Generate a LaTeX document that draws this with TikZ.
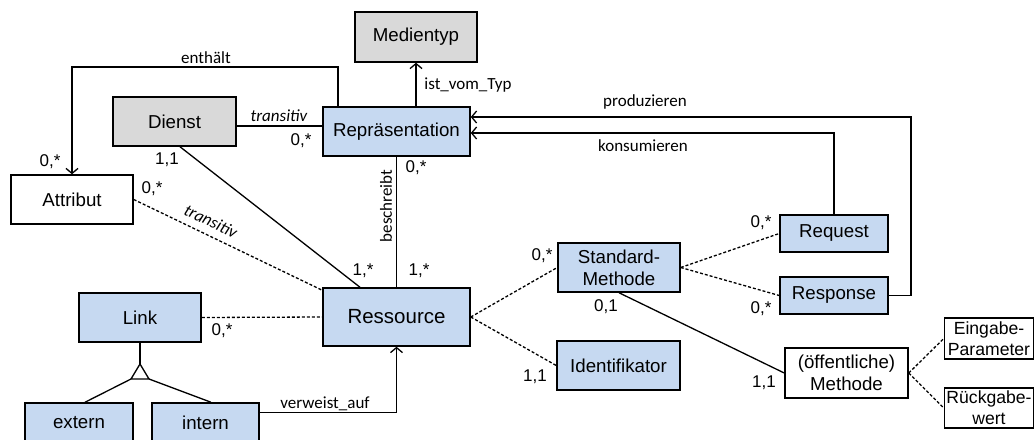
\documentclass[tikz,border=0pt]{standalone}
\usepackage{fontspec}
\setmainfont{Liberation Sans}
\newfontfamily\lblfont{Carlito}
\usetikzlibrary{arrows.meta,calc}
\definecolor{boxblue}{HTML}{C6D9F1}
\definecolor{boxgrey}{HTML}{D9D9D9}
\begin{document}
\begin{tikzpicture}[x=1pt,y=-1pt,
  ent/.style={draw=black,line width=1.5pt,inner sep=0pt,align=center,
    font=\fontsize{18.7}{22}\selectfont},
  bluebox/.style={ent,fill=boxblue},
  greybox/.style={ent,fill=boxgrey},
  whitebox/.style={ent,fill=white},
  con/.style={line width=1.3pt},
  dashline/.style={line width=1.3pt,dash pattern=on 3pt off 2pt},
  arr/.style={line width=1.3pt,-{Straight Barb[length=5pt,width=12pt,line width=1.3pt]}},
  card/.style={inner sep=0pt,font=\fontsize{17}{20}\selectfont},
  lbl/.style={inner sep=0pt,font=\lblfont\fontsize{17}{20}\selectfont},
  ilbl/.style={inner sep=0pt,font=\lblfont\itshape\fontsize{17}{20}\selectfont}]
\useasboundingbox (0,0) rectangle (1035,439);
% entities
\node[greybox,minimum width=122pt,minimum height=50pt] (medien) at (416,37) {Medientyp};
\node[bluebox,minimum width=147pt,minimum height=49pt] (repr) at (396.5,131.5) {Repräsentation};
\node[greybox,minimum width=123pt,minimum height=49pt] (dienst) at (174.5,121.5) {Dienst};
\node[whitebox,minimum width=122pt,minimum height=49pt] (attr) at (72,199.5) {Attribut};
\node[bluebox,minimum width=122pt,minimum height=49pt] (link) at (140,317.5) {Link};
\node[bluebox,minimum width=108pt,minimum height=39pt] (extern) at (79,422.5) {extern};
\node[bluebox,minimum width=107pt,minimum height=39pt] (intern) at (205.5,422.5) {intern};
\node[bluebox,minimum width=147pt,minimum height=58pt,font=\fontsize{20.5}{24}\selectfont] (ress) at (396.5,317) {Ressource};
\node[bluebox,minimum width=122pt,minimum height=49pt] (sm) at (619,267.5) {Standard-\\Methode};
\node[bluebox,minimum width=123pt,minimum height=49pt] (ident) at (618.5,365.5) {Identifikator};
\node[bluebox,minimum width=108pt,minimum height=37pt] (req) at (834,233.5) {Request};
\node[bluebox,minimum width=108pt,minimum height=37pt] (resp) at (834,295.5) {Response};
\node[whitebox,minimum width=123pt,minimum height=50pt] (meth) at (846.5,373) {(öffentliche)\\Methode};
\node[whitebox,minimum width=89pt,minimum height=41pt,font=\fontsize{17.6}{21}\selectfont] (ein) at (989,338.5) {Eingabe-\\Parameter};
\node[whitebox,minimum width=89pt,minimum height=40pt,font=\fontsize{17.6}{21}\selectfont] (rueck) at (989,408) {Rückgabe-\\wert};
% helper coordinates
\coordinate (e1) at (338,67);
\coordinate (pc) at (911,117);
\coordinate (kc) at (834,133);
\coordinate (dr) at (236,126);
\coordinate (apex) at (140,364);
\coordinate (bl) at (131,379);
\coordinate (br) at (149,379);
% connectors
\draw[arr] (repr.north -| e1) -- (e1) -| (attr.north);
\draw[arr] (repr.north -| medien.south) -- (medien.south);
\draw[con] (dr -| dienst.east) -- (dr -| repr.west);
\draw[con] ($(dienst.south)+(5.5,0)$) -- ($(ress.north)+(-36.5,0)$);
\draw[dashline] (attr.east) -- ($(ress.north west)+(0,3)$);
\draw[con] (repr.south) -- (ress.north);
\draw[dashline] (link.east) -- (ress.west);
\draw[arr] ($(intern.north east)+(0,10)$) -| (ress.south);
\draw[con] (link.south) -- (apex);
\draw[con,line join=miter] (apex) -- (bl) -- (br) -- cycle;
\draw[con] (bl) -- ($(extern.north)+(6,0)$);
\draw[con] (br) -- ($(intern.north)+(5.5,0)$);
\draw[dashline] (ress.east) -- (sm.west);
\draw[dashline] (ress.east) -- (ident.west);
\draw[dashline] (sm.east) -- (req.west);
\draw[dashline] (sm.east) -- (resp.west);
\draw[con] (sm.south) -- (meth.west);
\draw[dashline] (meth.east) -- (ein.west);
\draw[dashline] (meth.east) -- (rueck.west);
\draw[arr] (req.north) -- (kc) -- (kc -| repr.east);
\draw[arr] (resp.east) -| (pc) -- (pc -| repr.east);
% connector labels
\node[lbl] (l-enth) at (206,58) {enthält};
\node[lbl] (l-typ) at (468,85) {ist\_vom\_Typ};
\node[lbl] (l-prod) at (645,102) {produzieren};
\node[lbl] (l-kons) at (643,146) {konsumieren};
\node[lbl,rotate=90] (l-besch) at (386,206) {beschreibt};
\node[lbl] (l-verw) at (325,404) {verweist\_auf};
\node[ilbl] (l-tr1) at (279,116) {transitiv};
\node[ilbl,rotate=-25.3] (l-tr2) at (211,221) {transitiv};
% cardinalities
\node[card] (c1) at (50,162) {0,*};
\node[card] (c2) at (167,160) {1,1};
\node[card] (c3) at (301,141) {0,*};
\node[card] (c4) at (152,189) {0,*};
\node[card] (c5) at (416,168) {0,*};
\node[card] (c6) at (363,271) {1,*};
\node[card] (c7) at (419,271) {1,*};
\node[card] (c8) at (222,331) {0,*};
\node[card] (c9) at (542,256) {0,*};
\node[card] (c10) at (535,377) {1,1};
\node[card] (c11) at (606,307) {0,1};
\node[card] (c12) at (761,223) {0,*};
\node[card] (c13) at (761,309) {0,*};
\node[card] (c14) at (764,383) {1,1};
\end{tikzpicture}
\end{document}
